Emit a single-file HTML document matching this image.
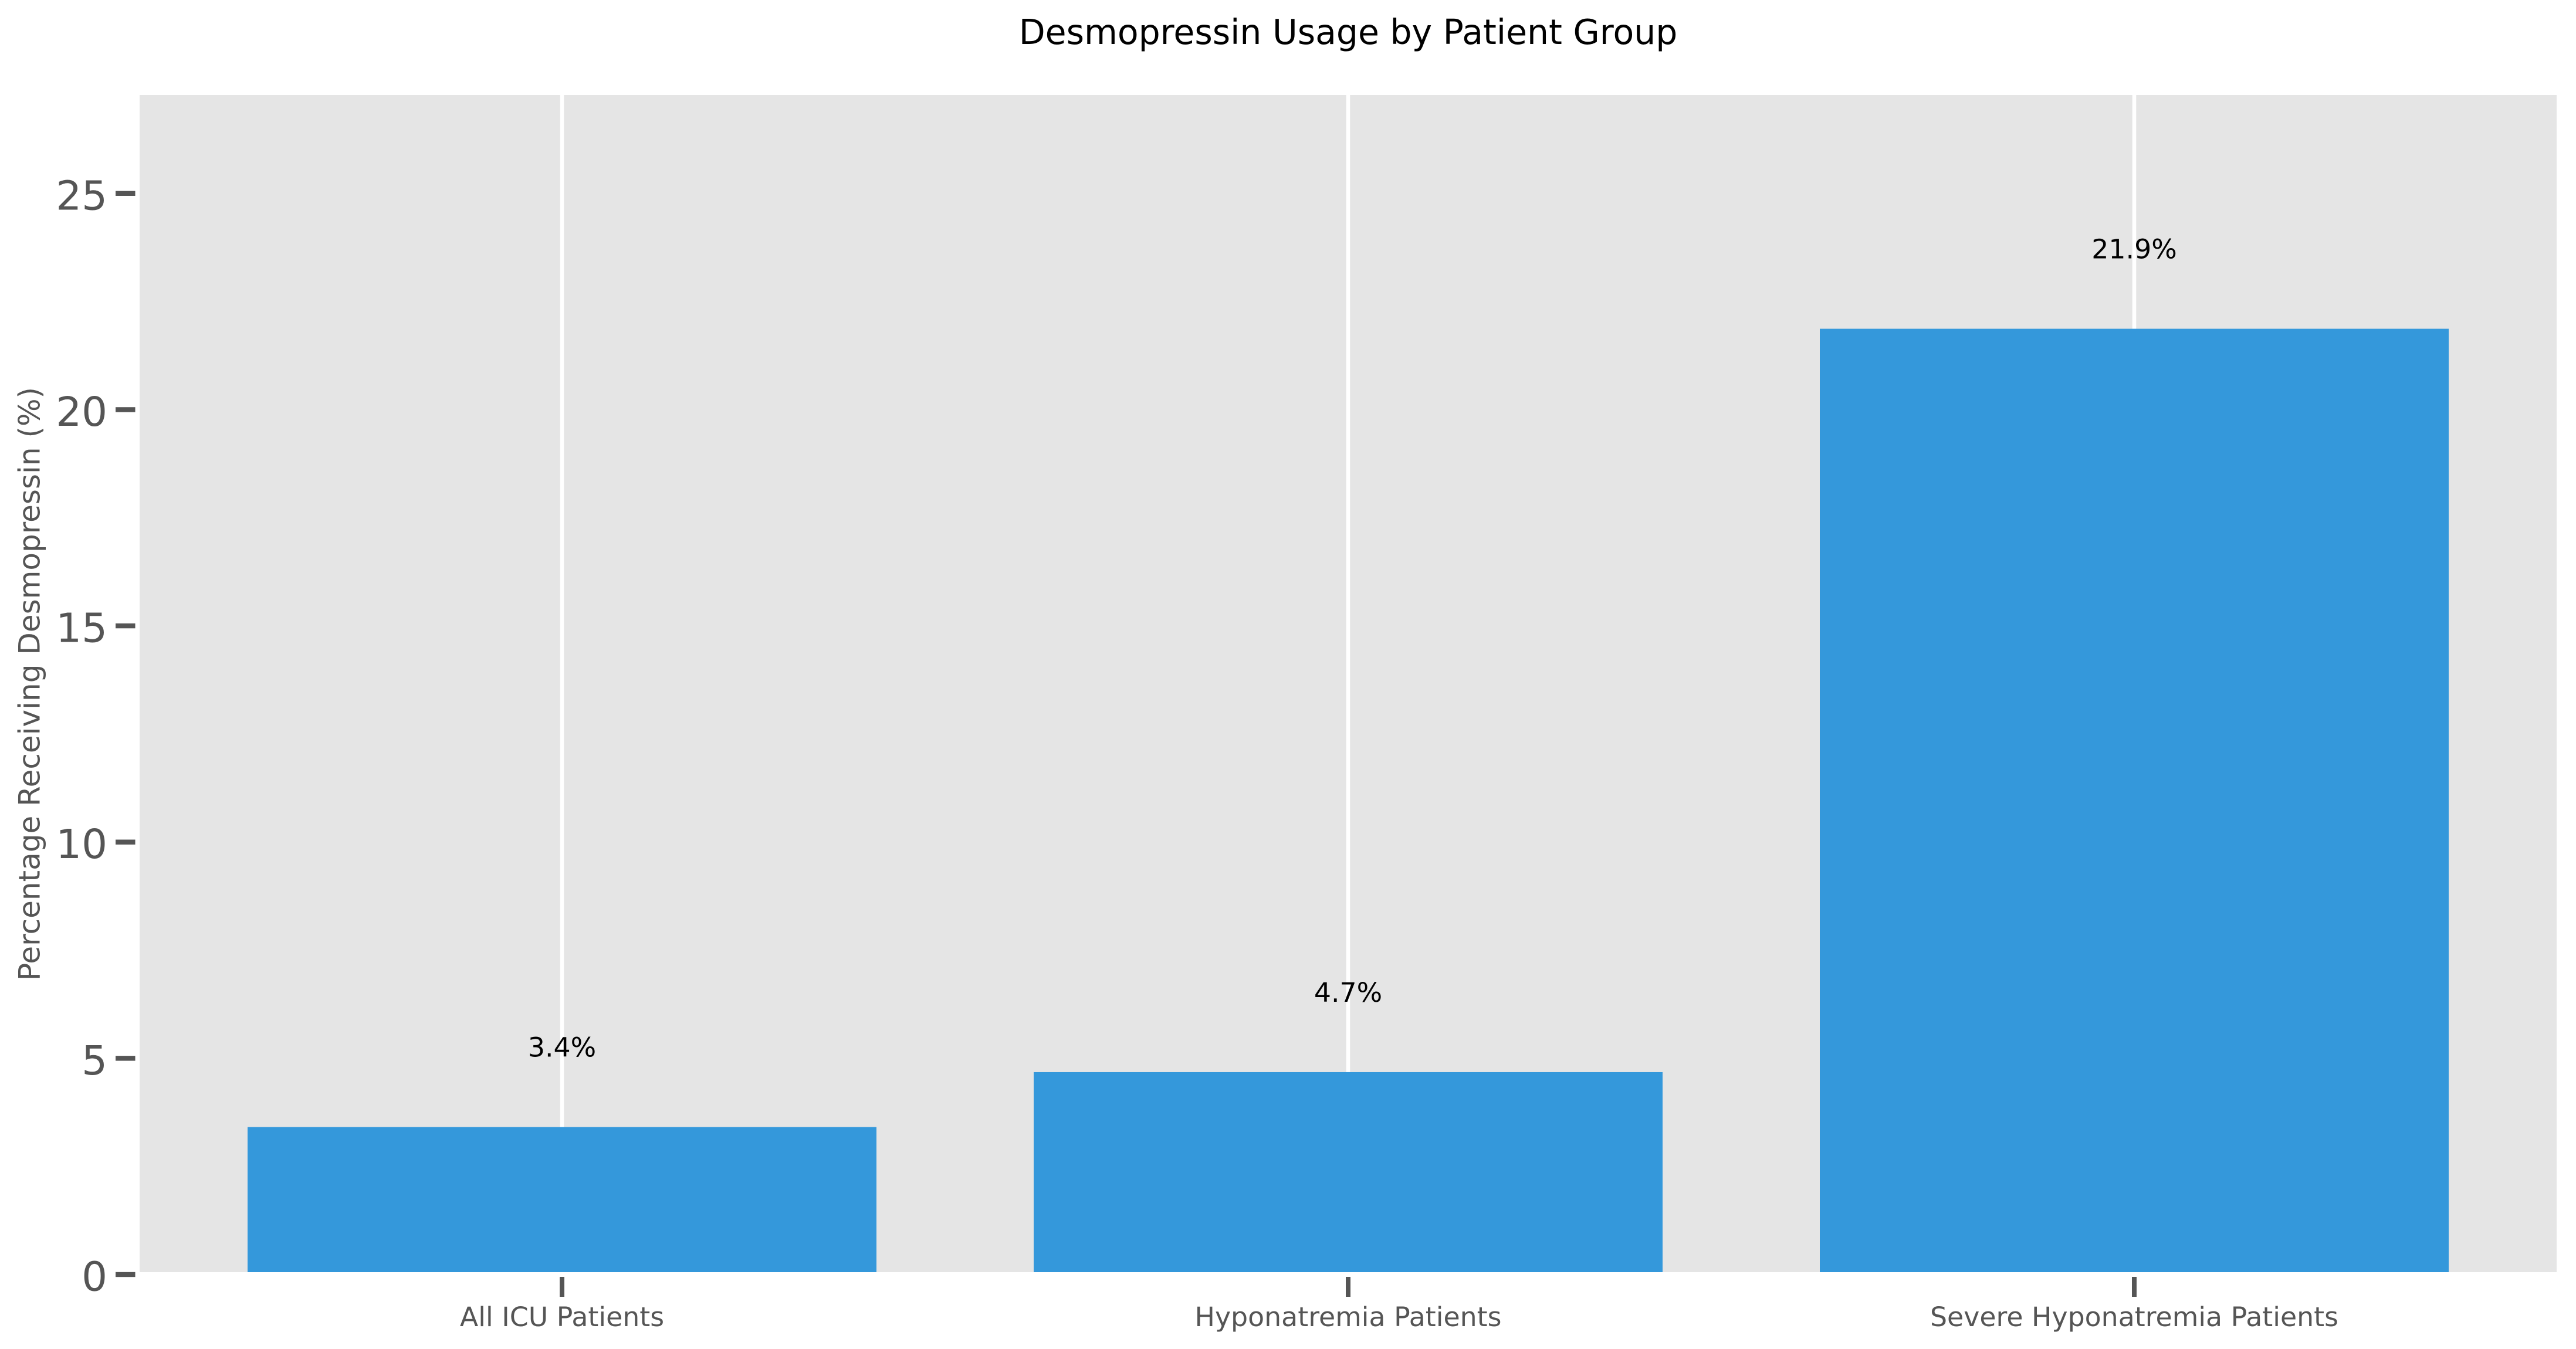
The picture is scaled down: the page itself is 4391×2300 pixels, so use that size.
<!DOCTYPE html>
<html lang="en">
<head>
<meta charset="utf-8">
<title>Desmopressin Usage by Patient Group</title>
<style>
html,body{margin:0;padding:0;background:#fff;}
svg{display:block;font-family:"DejaVu Sans","Liberation Sans",sans-serif;}
</style>
</head>
<body>
<svg id="chart" xmlns="http://www.w3.org/2000/svg" width="4391" height="2300" viewBox="0 0 4391 2300">
  <rect x="0" y="0" width="4391" height="2300" fill="#ffffff"/>
  <rect x="234" y="158" width="4128" height="2015" fill="#e5e5e5"/>
  <g id="grid"></g>
  <g id="bars"></g>
  <g id="spines">
    <rect x="230" y="154" width="8" height="2023" fill="#ffffff"/>
    <rect x="4358" y="154" width="8" height="2023" fill="#ffffff"/>
    <rect x="230" y="154" width="4136" height="8" fill="#ffffff"/>
    <rect x="230" y="2169" width="4136" height="8" fill="#ffffff"/>
  </g>
  <g id="ticks"></g>
  <g id="labels"></g>
  <text x="2298" y="75" text-anchor="middle" font-size="58.4" fill="#000000">Desmopressin Usage by Patient Group</text>
  <text transform="translate(67.5,1166) rotate(-90)" text-anchor="middle" font-size="50" fill="#555555">Percentage Receiving Desmopressin (%)</text>
</svg>
<script>
const categories = ["All ICU Patients", "Hyponatremia Patients", "Severe Hyponatremia Patients"];
const seriesValues = [3.41, 4.68, 21.87];
const printedValues = ["3.4%", "4.7%", "21.9%"];
const yTickValues = [0, 5, 10, 15, 20, 25];

const NS = "http://www.w3.org/2000/svg";
const plotLeft = 234, plotRight = 4362, plotTop = 158, plotBottom = 2173;
const xMin = -0.5403, xMax = 2.5403, yMin = 0, yMax = 27.33;
const barWidth = 0.8, labelOffset = 1.63;

function xScale(v) { return plotLeft + (v - xMin) / (xMax - xMin) * (plotRight - plotLeft); }
function yScale(v) { return plotBottom - (v - yMin) / (yMax - yMin) * (plotBottom - plotTop); }
function make(tag, attrs, parent, text) {
  const el = document.createElementNS(NS, tag);
  for (const k in attrs) el.setAttribute(k, attrs[k]);
  if (text !== undefined) el.textContent = text;
  parent.appendChild(el);
  return el;
}
const gridG = document.getElementById("grid");
const barsG = document.getElementById("bars");
const ticksG = document.getElementById("ticks");
const labelsG = document.getElementById("labels");

categories.forEach(function (cat, i) {
  const cx = xScale(i);
  const grid = make("rect", {x: cx - 3.25, y: plotTop, width: 6.5, height: plotBottom - plotTop, fill: "#ffffff"}, gridG);
  
  

  const left = xScale(i - barWidth / 2), right = xScale(i + barWidth / 2);
  const top = yScale(seriesValues[i]);
  const bar = make("rect", {x: left, y: top, width: right - left, height: yScale(0) - top, fill: "#3498db"}, barsG);
  
  

  const tick = make("rect", {x: cx - 4, y: 2177, width: 8, height: 34, fill: "#555555"}, ticksG);
  
  

  const xl = make("text", {x: cx, y: 2261, "text-anchor": "middle", "font-size": 45.8, fill: "#555555"}, ticksG, cat);
  
  

  const vl = make("text", {x: cx, y: yScale(seriesValues[i] + labelOffset), "text-anchor": "middle", "font-size": 45.8, fill: "#000000"}, labelsG, printedValues[i]);
  
  
});

yTickValues.forEach(function (v) {
  const y = yScale(v);
  const tick = make("rect", {x: 197, y: y - 4.2, width: 33.5, height: 8.4, fill: "#555555"}, ticksG);
  
  

  const yl = make("text", {x: 183, y: y + 27.5, "text-anchor": "end", "font-size": 69, fill: "#555555"}, ticksG, String(v));
  
  
});
</script>
</body>
</html>
